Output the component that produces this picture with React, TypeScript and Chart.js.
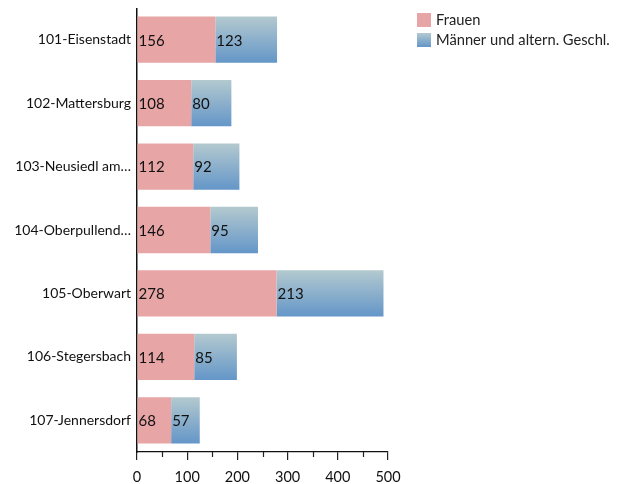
import React, { useEffect, useRef } from "react";
import { Chart, registerables } from "chart.js";

Chart.register(...registerables);

const categories = [
  "101-Eisenstadt",
  "102-Mattersburg",
  "103-Neusiedl am…",
  "104-Oberpullend…",
  "105-Oberwart",
  "106-Stegersbach",
  "107-Jennersdorf",
];
const frauen = [156, 108, 112, 146, 278, 114, 68];
const maenner = [123, 80, 92, 95, 213, 85, 57];
const seriesNames = ["Frauen", "Männer und altern. Geschl."];
const xMin = 0;
const xMax = 500;
const xStep = 100;
const xMinorTicks = [50, 150, 250, 350, 450];

const FONT = "Lato, 'Open Sans', sans-serif";
const PINK = "#e8a5a6";
const BLUE_TOP = "#b3c9cf";
const BLUE_BOTTOM = "#6496c8";
const BAR_PCT = 0.73;

function blueGradient(ctx: CanvasRenderingContext2D, top: number, bottom: number) {
  const g = ctx.createLinearGradient(0, top, 0, bottom);
  g.addColorStop(0, BLUE_TOP);
  g.addColorStop(1, BLUE_BOTTOM);
  return g;
}

const labelPlugin = {
  id: "barLabels",
  afterDatasetsDraw(chart: any) {
    const ctx = chart.ctx;
    ctx.save();
    ctx.font = `15px ${FONT}`;
    ctx.fillStyle = "#111";
    ctx.textBaseline = "middle";
    ctx.textAlign = "left";
    chart.data.datasets.forEach((ds: any, di: number) => {
      const meta = chart.getDatasetMeta(di);
      meta.data.forEach((el: any, i: number) => {
        const left = Math.min(el.base, el.x);
        ctx.fillText(String(ds.data[i]), left + 1, el.y + 1);
      });
    });
    ctx.restore();
  },
};

const extrasPlugin = {
  id: "extras",
  afterDraw(chart: any) {
    const ctx = chart.ctx;
    const x = chart.scales.x;
    const bottom = chart.chartArea.bottom;
    ctx.save();
    ctx.strokeStyle = "#222";
    ctx.lineWidth = 1.2;
    xMinorTicks.forEach((v) => {
      const px = Math.round(x.getPixelForValue(v)) + 0.5;
      ctx.beginPath();
      ctx.moveTo(px, bottom);
      ctx.lineTo(px, bottom + 5);
      ctx.stroke();
    });
    // legend
    const lx = 409;
    const rows = [5, 25];
    ctx.font = `14.7px ${FONT}`;
    ctx.textBaseline = "middle";
    ctx.textAlign = "left";
    seriesNames.forEach((name, i) => {
      const top = rows[i];
      ctx.fillStyle = i === 0 ? PINK : blueGradient(ctx, top, top + 14);
      ctx.fillRect(lx, top, 14, 14);
      ctx.fillStyle = "#222";
      ctx.fillText(name, lx + 19, top + 7.5);
    });
    ctx.restore();
  },
};

export default function App() {
  const ref = useRef<HTMLCanvasElement | null>(null);
  useEffect(() => {
    if (!ref.current) return;
    const chart = new Chart(ref.current, {
      type: "bar",
      data: {
        labels: categories,
        datasets: [
          {
            label: seriesNames[0],
            data: frauen,
            backgroundColor: PINK,
            barPercentage: BAR_PCT,
            categoryPercentage: 1,
          },
          {
            label: seriesNames[1],
            data: maenner,
            backgroundColor: (c: any) => {
              const chart = c.chart;
              const y = chart.scales && chart.scales.y;
              if (!chart.chartArea || !y || c.dataIndex === undefined) return BLUE_BOTTOM;
              const center = y.getPixelForValue(c.dataIndex);
              const half = ((y.height / categories.length) * BAR_PCT) / 2;
              return blueGradient(chart.ctx, center - half, center + half);
            },
            barPercentage: BAR_PCT,
            categoryPercentage: 1,
          },
        ],
      },
      options: {
        indexAxis: "y",
        animation: false,
        responsive: true,
        maintainAspectRatio: false,
        layout: { padding: { left: 0, right: 232, top: 0, bottom: 0 } },
        plugins: {
          legend: { display: false },
          tooltip: { enabled: false },
        },
        scales: {
          x: {
            stacked: true,
            min: xMin,
            max: xMax,
            ticks: {
              stepSize: xStep,
              color: "#111",
              font: { family: FONT, size: 14.5 },
              padding: 9,
            },
            grid: {
              display: true,
              drawOnChartArea: false,
              drawTicks: true,
              tickLength: 8,
              color: "#222",
              lineWidth: 1.2,
            },
            border: { display: true, color: "#111", width: 1.2 },
            afterFit(scale: any) {
              scale.height = 32;
            },
          },
          y: {
            stacked: true,
            ticks: {
              color: "#111",
              font: { family: FONT, size: 14 },
              padding: 6,
            },
            grid: { display: false, drawTicks: false },
            border: { display: true, color: "#111", width: 1.5 },
            afterFit(scale: any) {
              scale.width = 129;
              scale.paddingTop = 0;
              scale.paddingBottom = 0;
            },
          },
        },
      },
      plugins: [labelPlugin, extrasPlugin],
    } as any);
    return () => chart.destroy();
  }, []);
  return (
    <div style={{ position: "relative", width: 612, height: 476 }}>
      <canvas ref={ref} />
    </div>
  );
}
